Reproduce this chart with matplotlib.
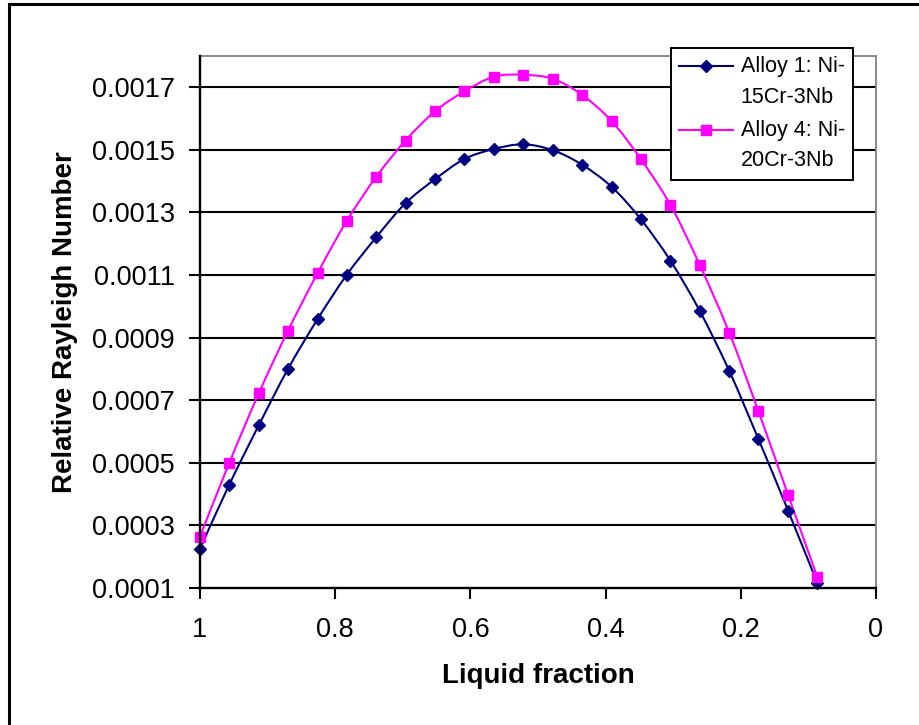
import numpy as np
import matplotlib
matplotlib.use("Agg")
import matplotlib.pyplot as plt
from matplotlib.path import Path
from matplotlib.patches import PathPatch
from matplotlib.lines import Line2D
from matplotlib.legend_handler import HandlerLine2D
from matplotlib.transforms import Affine2D

plt.rcParams['font.family'] = ['Liberation Sans', 'DejaVu Sans']

# Liquid fraction at each evaluated step
liquid_fraction = [1.000, 0.957, 0.913, 0.870, 0.826, 0.783, 0.739, 0.696,
                   0.652, 0.609, 0.565, 0.522, 0.478, 0.435, 0.391, 0.348,
                   0.304, 0.261, 0.217, 0.174, 0.130, 0.087]

# Relative Rayleigh number for each alloy
alloy1 = [0.000225, 0.000429, 0.000620, 0.000799, 0.000959, 0.001100,
          0.001221, 0.001329, 0.001406, 0.001470, 0.001502, 0.001517,
          0.001498, 0.001452, 0.001381, 0.001278, 0.001145, 0.000986,
          0.000793, 0.000576, 0.000347, 0.000117]
alloy4 = [0.000264, 0.000498, 0.000722, 0.000921, 0.001106, 0.001272,
          0.001414, 0.001529, 0.001623, 0.001686, 0.001733, 0.001739,
          0.001726, 0.001675, 0.001591, 0.001470, 0.001323, 0.001133,
          0.000915, 0.000665, 0.000397, 0.000136]

labels = ["Alloy 1: Ni-\n15Cr-3Nb", "Alloy 4: Ni-\n20Cr-3Nb"]
colors = ["#000080", "#FF00FF"]
markers = ["D", "s"]
marker_sizes = [6.2, 7.4]

x_ticks = [1.0, 0.8, 0.6, 0.4, 0.2, 0.0]
x_tick_labels = ["1", "0.8", "0.6", "0.4", "0.2", "0"]
y_ticks = [0.0001, 0.0003, 0.0005, 0.0007, 0.0009, 0.0011, 0.0013,
           0.0015, 0.0017]
y_tick_labels = ["0.0001", "0.0003", "0.0005", "0.0007", "0.0009",
                 "0.0011", "0.0013", "0.0015", "0.0017"]


def smooth_path(xs, ys):
    """Cubic Bezier path through the points (spreadsheet-style smoothing)."""
    pts = np.column_stack([xs, ys]).astype(float)
    n = len(pts)
    verts = [pts[0]]
    codes = [Path.MOVETO]
    for i in range(n - 1):
        p0 = pts[i - 1] if i > 0 else pts[i]
        p1 = pts[i]
        p2 = pts[i + 1]
        p3 = pts[i + 2] if i + 2 < n else pts[i + 1]
        c1 = p1 + (p2 - p0) / 6.0
        c2 = p2 - (p3 - p1) / 6.0
        verts += [c1, c2, p2]
        codes += [Path.CURVE4] * 3
    return Path(verts, codes)


class ShiftedHandler(HandlerLine2D):
    """Legend symbol moved vertically by a fixed number of pixels."""
    def __init__(self, shift_px, **kw):
        super().__init__(**kw)
        self.shift_px = shift_px

    def create_artists(self, legend, orig_handle, xdescent, ydescent,
                       width, height, fontsize, trans):
        trans = trans + Affine2D().translate(0, self.shift_px)
        return super().create_artists(legend, orig_handle, xdescent, ydescent,
                                      width, height, fontsize, trans)


fig = plt.figure(figsize=(9.2, 7.25), dpi=100)
ax = fig.add_axes([200 / 920, 1 - 588 / 725, 676 / 920, (588 - 55.7) / 725])

ax.set_xlim(1.0, 0.0)
ax.set_ylim(0.0001, 0.0018)

# horizontal gridlines
for yv in y_ticks[1:]:
    ax.axhline(yv, color="black", lw=1.5, zorder=1)

handles = []
for ys, c, m, ms, lab in zip([alloy1, alloy4], colors, markers,
                             marker_sizes, labels):
    patch = PathPatch(smooth_path(liquid_fraction, ys), facecolor="none",
                      edgecolor=c, lw=1.5, zorder=3, transform=ax.transData)
    ax.add_patch(patch)
    ax.plot(liquid_fraction, ys, ls="none", marker=m, ms=ms, color=c,
            mec=c, zorder=4, clip_on=False)
    handles.append(Line2D([], [], color=c, lw=1.5, marker=m, ms=ms,
                          mec=c, label=lab))

ax.set_xticks(x_ticks)
ax.set_xticklabels(x_tick_labels)
ax.set_yticks(y_ticks)
ax.set_yticklabels(y_tick_labels)
ax.tick_params(axis="both", direction="out", length=8, width=1.5,
               labelsize=19.5, colors="black")
ax.tick_params(axis="x", pad=13)
ax.tick_params(axis="y", pad=10)

for side in ["left", "bottom"]:
    ax.spines[side].set_color("black")
    ax.spines[side].set_linewidth(1.7)
    ax.spines[side].set_zorder(5)
for side in ["top", "right"]:
    ax.spines[side].set_color("#808080")
    ax.spines[side].set_linewidth(1.3)

ax.set_xlabel("Liquid fraction", fontsize=20, fontweight="bold", labelpad=14)
ax.set_ylabel("Relative Rayleigh Number", fontsize=20, fontweight="bold",
              labelpad=10)

leg_fs = 15.5
leg = fig.legend(handles=handles, loc="upper left",
                 bbox_to_anchor=(671 / 920, 1 - 48 / 725),
                 bbox_transform=fig.transFigure, borderaxespad=0,
                 fontsize=leg_fs, frameon=True, fancybox=False,
                 edgecolor="black", framealpha=1, handlelength=2.5,
                 handletextpad=0.35, borderpad=0.38, labelspacing=0.56,
                 handler_map={h: ShiftedHandler(16) for h in handles})
for t in leg.get_texts():
    t.set_linespacing(1.6)
leg.get_frame().set_linewidth(1.4)

# outer chart frame (top and left edges)
fig.add_artist(Line2D([9 / 920, 9 / 920], [0, 1 - 4 / 725], color="black",
                      lw=2.2, transform=fig.transFigure))
fig.add_artist(Line2D([9 / 920, 1], [1 - 4 / 725, 1 - 4 / 725], color="black",
                      lw=2.2, transform=fig.transFigure))

fig.savefig("out.png", dpi=100)
